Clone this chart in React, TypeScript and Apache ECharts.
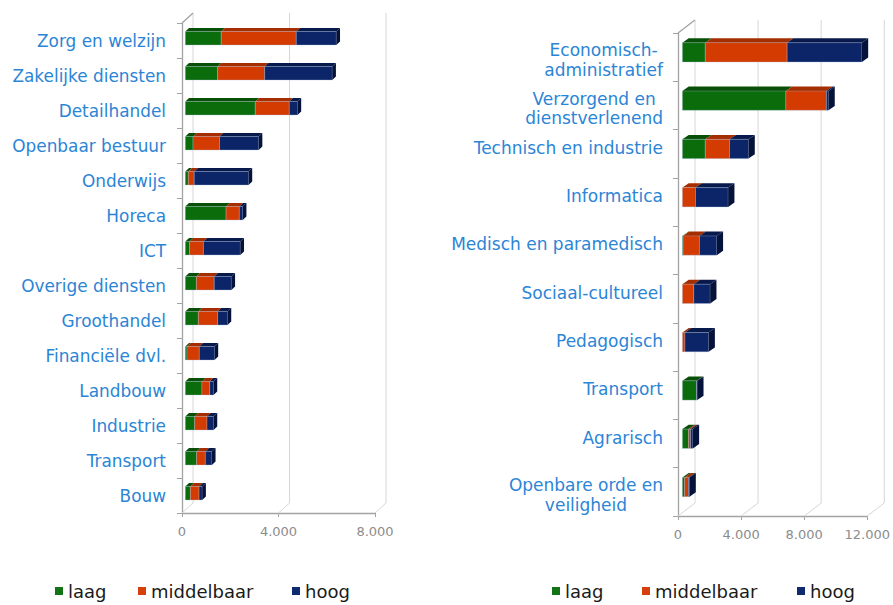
import React, { useEffect, useRef } from 'react';
import * as echarts from 'echarts';

const leftCategories = ['Zorg en welzijn', 'Zakelijke diensten', 'Detailhandel', 'Openbaar bestuur', 'Onderwijs', 'Horeca', 'ICT', 'Overige diensten', 'Groothandel', 'Financiële dvl.', 'Landbouw', 'Industrie', 'Transport', 'Bouw'];
const leftLaag = [1490, 1340, 2900, 320, 125, 1690, 180, 460, 540, 70, 690, 390, 470, 210];
const leftMiddelbaar = [3110, 1950, 1410, 1100, 245, 550, 570, 740, 800, 510, 320, 510, 360, 360];
const leftHoog = [1660, 2800, 340, 1620, 2250, 140, 1530, 710, 410, 630, 160, 270, 270, 130];

const rightCategories = ['Economisch-\nadministratief', 'Verzorgend en\ndienstverlenend', 'Technisch en industrie', 'Informatica', 'Medisch en paramedisch', 'Sociaal-cultureel', 'Pedagogisch', 'Transport', 'Agrarisch', 'Openbare orde en\nveiligheid'];
const rightLaag = [1450, 6560, 1450, 0, 40, 0, 0, 900, 390, 140];
const rightMiddelbaar = [5190, 2570, 1540, 830, 1040, 720, 160, 10, 130, 250];
const rightHoog = [4740, 130, 1200, 2070, 1100, 1040, 1500, 30, 140, 60];

const leftTicks = [0, 4000, 8000];
const rightTicks = [0, 4000, 8000, 12000];
const levels = ['laag', 'middelbaar', 'hoog'];

const FONT = '"DejaVu Sans", Verdana, sans-serif';
const LABEL_BLUE = '#2b85d6';
const AXIS_GRAY = '#a3a3a3';
const GRID_GRAY = '#d6d6d6';
const RIGHT_FS = 17;

const palette = [
  { legend: '#147314', front: '#0b6c0b', top: '#084f08', side: '#063c06' },
  { legend: '#d6400e', front: '#d43b00', top: '#a52e00', side: '#862500' },
  { legend: '#102a6e', front: '#0c2568', top: '#081a4b', side: '#05123a' },
];

const fmt = (v: number) => String(v).replace(/\B(?=(\d{3})+(?!\d))/g, '.');

function segments(series: number[][], level: number) {
  return series[0].map((_, i) => {
    let start = 0;
    for (let k = 0; k < level; k++) start += series[k][i];
    const end = start + series[level][i];
    let lastNZ = -1;
    for (let k = 0; k < series.length; k++) if (series[k][i] > 0) lastNZ = k;
    return [start, end, i, lastNZ === level ? 1 : 0];
  });
}

type Geo = { xOff: number; frontTop: number; frontBot: number; dx: number; dy: number };

const makeBarRender = (geo: Geo, col: any) => (params: any, api: any) => {
  const s = api.value(0);
  const e = api.value(1);
  const c = api.value(2);
  const last = api.value(3);
  if (e <= s) return { type: 'group', children: [] };
  const p0 = api.coord([s, c]);
  const p1 = api.coord([e, c]);
  const band = api.size([0, 1])[1];
  const bt = p0[1] - band / 2;
  const x0 = p0[0] + geo.xOff;
  const x1 = p1[0] + geo.xOff;
  const yT = bt + geo.frontTop;
  const yB = bt + geo.frontBot;
  const { dx, dy } = geo;
  const children: any[] = [
    {
      type: 'polygon',
      shape: { points: [[x0, yT], [x1, yT], [x1 + dx, yT - dy], [x0 + dx, yT - dy]] },
      style: { fill: col.top },
    },
    {
      type: 'rect',
      shape: { x: x0, y: yT, width: x1 - x0, height: yB - yT },
      style: { fill: col.front, stroke: 'rgba(170,190,225,0.55)', lineWidth: 0.6 },
    },
  ];
  if (last) {
    children.push({
      type: 'polygon',
      shape: { points: [[x1, yT], [x1 + dx, yT - dy], [x1 + dx, yB - dy], [x1, yB]] },
      style: { fill: col.side },
    });
  }
  return { type: 'group', children };
};

const makeWallRender = (n: number, dx: number, dy: number) => (params: any, api: any) => {
  const v = api.value(0);
  const pTop = api.coord([v, 0]);
  const pBot = api.coord([v, n - 1]);
  const band = api.size([0, 1])[1];
  const top = pTop[1] - band / 2;
  const bot = pBot[1] + band / 2;
  const x = pTop[0];
  const children: any[] = [
    {
      type: 'polyline',
      shape: { points: [[x, bot], [x + dx, bot - dy], [x + dx, top - dy]] },
      style: { stroke: GRID_GRAY, lineWidth: 1, fill: null },
    },
  ];
  if (v === 0) {
    children.push({
      type: 'line',
      shape: { x1: x, y1: top, x2: x + dx, y2: top - dy },
      style: { stroke: AXIS_GRAY, lineWidth: 1.3 },
    });
  }
  return { type: 'group', children };
};

function measure(text: string, fontSize: number) {
  const cv = document.createElement('canvas');
  const ctx = cv.getContext('2d');
  if (!ctx) return text.length * fontSize * 0.6;
  ctx.font = `${fontSize}px ${FONT}`;
  return ctx.measureText(text).width;
}

export default function App() {
  const ref = useRef<HTMLDivElement>(null);
  useEffect(() => {
    if (!ref.current) return;
    const chart = echarts.init(ref.current, undefined, { renderer: 'svg' });
    const leftSeries = [leftLaag, leftMiddelbaar, leftHoog];
    const rightSeries = [rightLaag, rightMiddelbaar, rightHoog];
    const leftGeo: Geo = { xOff: 3.3, frontTop: 8.5, frontBot: 22, dx: 3.7, dy: 3.5 };
    const rightGeo: Geo = { xOff: 4.4, frontTop: 9.7, frontBot: 29, dx: 6.3, dy: 4.4 };

    const xAxisBase = (max: number, interval: number, gridIndex: number) => ({
      gridIndex,
      type: 'value',
      min: 0,
      max,
      interval,
      axisLine: { show: true, lineStyle: { color: AXIS_GRAY, width: 1.3 } },
      axisTick: { show: true, length: 4, lineStyle: { color: AXIS_GRAY } },
      axisLabel: { color: '#8c8c8c', fontSize: 13, fontFamily: FONT, margin: 12, formatter: (v: number) => fmt(v) },
      splitLine: { show: false },
    });

    const series: any[] = [];
    levels.forEach((name, li) => {
      series.push({
        type: 'custom',
        name,
        xAxisIndex: 0,
        yAxisIndex: 0,
        z: 3,
        itemStyle: { color: palette[li].legend },
        renderItem: makeBarRender(leftGeo, palette[li]),
        encode: { x: [0, 1], y: 2 },
        data: segments(leftSeries, li),
      });
    });
    levels.forEach((name, li) => {
      series.push({
        type: 'custom',
        name,
        xAxisIndex: 1,
        yAxisIndex: 1,
        z: 3,
        itemStyle: { color: palette[li].legend },
        renderItem: makeBarRender(rightGeo, palette[li]),
        encode: { x: [0, 1], y: 2 },
        data: segments(rightSeries, li),
      });
    });
    series.push({
      type: 'custom',
      name: 'wallLeft',
      xAxisIndex: 0,
      yAxisIndex: 0,
      z: 1,
      silent: true,
      renderItem: makeWallRender(leftCategories.length, 11, 10),
      encode: { x: 0, y: 1 },
      data: leftTicks.map((v) => [v, 0]),
    });
    series.push({
      type: 'custom',
      name: 'wallRight',
      xAxisIndex: 1,
      yAxisIndex: 1,
      z: 1,
      silent: true,
      renderItem: makeWallRender(rightCategories.length, 17, 13),
      encode: { x: 0, y: 1 },
      data: rightTicks.map((v) => [v, 0]),
    });

    const richBase = { fontSize: RIGHT_FS, fontFamily: FONT, color: LABEL_BLUE };
    const rich: any = {
      s: { ...richBase, lineHeight: 20 },
      g: { fontSize: 8, lineHeight: 12 },
      g2: { fontSize: 6, lineHeight: 6 },
    };
    const labelMap: Record<string, string> = {};
    rightCategories.forEach((cat, ci) => {
      const lines = cat.split('\n');
      if (lines.length > 1) {
        const ws = lines.map((l) => measure(l, RIGHT_FS));
        const W = Math.max(...ws);
        labelMap[cat] =
          '{g2| }\n' +
          lines
            .map((l, li) => {
              const key = `m${ci}_${li}`;
              rich[key] = { ...richBase, lineHeight: 19.5, padding: [0, (W - ws[li]) / 2, 0, 0] };
              return `{${key}|${l}}`;
            })
            .join('\n');
      } else {
        labelMap[cat] = `{s|${cat}}\n{g| }`;
      }
    });

    const legendPos = [
      { name: 'laag', left: 55 },
      { name: 'middelbaar', left: 138 },
      { name: 'hoog', left: 292 },
      { name: 'laag', left: 552 },
      { name: 'middelbaar', left: 642 },
      { name: 'hoog', left: 797 },
    ];

    chart.setOption({
      animation: false,
      backgroundColor: '#ffffff',
      grid: [
        { left: 182, top: 23, width: 193, height: 490, containLabel: false },
        { left: 678, top: 33, width: 193, height: 483, containLabel: false },
      ],
      xAxis: [xAxisBase(8000, 4000, 0), xAxisBase(12000, 4000, 1)],
      yAxis: [
        {
          gridIndex: 0,
          type: 'category',
          data: leftCategories,
          inverse: true,
          axisLine: { show: true, lineStyle: { color: AXIS_GRAY, width: 1.3 } },
          axisTick: { show: true, length: 5, lineStyle: { color: AXIS_GRAY } },
          axisLabel: { interval: 0, color: LABEL_BLUE, fontSize: 16.9, fontFamily: FONT, margin: 16 },
          splitLine: { show: false },
        },
        {
          gridIndex: 1,
          type: 'category',
          data: rightCategories,
          inverse: true,
          axisLine: { show: true, lineStyle: { color: AXIS_GRAY, width: 1.3 } },
          axisTick: { show: true, length: 5, lineStyle: { color: AXIS_GRAY } },
          axisLabel: {
            interval: 0,
            color: LABEL_BLUE,
            fontSize: RIGHT_FS,
            fontFamily: FONT,
            margin: 15,
            formatter: (value: string) => labelMap[value] ?? value,
            rich,
          },
          splitLine: { show: false },
        },
      ],
      legend: legendPos.map((p) => ({
        data: [p.name],
        left: p.left,
        top: 582,
        padding: 0,
        itemWidth: 8,
        itemHeight: 8,
        icon: 'rect',
        selectedMode: false,
        textStyle: { fontSize: 18, color: '#1a1a1a', fontFamily: FONT },
      })),
      series,
    });
    return () => chart.dispose();
  }, []);
  return <div ref={ref} style={{ position: 'fixed', left: 0, top: 0, width: 893, height: 605 }} />;
}
